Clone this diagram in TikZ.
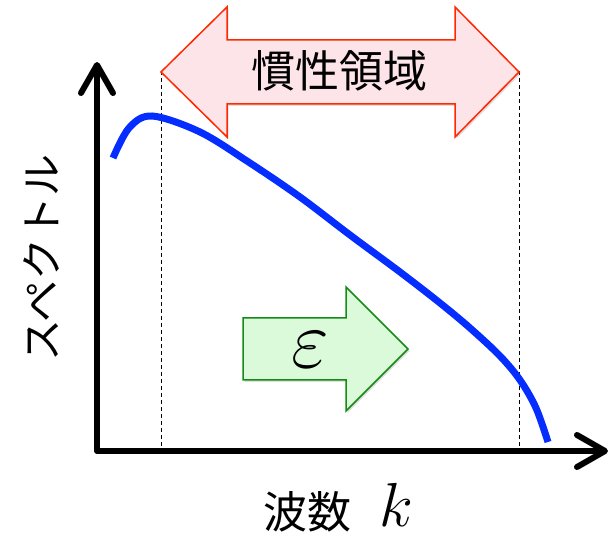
\documentclass[tikz,border=0pt]{standalone}
\usepackage{fontspec}
\usepackage{graphicx}
\newfontfamily\jpfont{Noto Sans CJK JP}
\usetikzlibrary{arrows.meta,shadows}
\definecolor{curveblue}{RGB}{5,45,255}
\definecolor{pinkfill}{RGB}{253,228,233}
\definecolor{redline}{RGB}{255,40,0}
\definecolor{greenfill}{RGB}{218,250,218}
\definecolor{greenline}{RGB}{20,140,20}
\tikzset{
  axisline/.style={line width=6pt, line cap=round, line join=round,
    arrows={Straight Barb[length=28pt,width=32pt,round]-Straight Barb[length=28pt,width=32pt,round]}},
  guide/.style={line width=1pt, dash pattern=on 4pt off 3pt},
  spectrum/.style={line width=7pt, color=curveblue},
  bigarrow/.style={line width=1.5pt, line join=miter,
    drop shadow={shadow xshift=1.5pt, shadow yshift=-2pt, opacity=0.25}},
  jplabel/.style={font=\jpfont\fontsize{42}{42}\selectfont, inner sep=0pt}
}
\begin{document}
\begin{tikzpicture}[x=1pt,y=-1pt]
\useasboundingbox (0,0) rectangle (611,534);
% axes
\coordinate (ytip) at (97,62);
\coordinate (origin) at (97,451);
\coordinate (xtip) at (608,451);
\draw[axisline] (ytip) -- (origin) -- (xtip);
% guide lines
\coordinate (gl) at (161,71);
\coordinate (glb) at (161,451);
\coordinate (gr) at (519,71);
\coordinate (grb) at (519,451);
\draw[guide] (gl) -- (glb);
\draw[guide] (gr) -- (grb);
% inertial range arrow
\filldraw[bigarrow, fill=pinkfill, draw=redline]
  (161,72) -- (227,7) -- (227,40) -- (455,40) -- (455,7) -- (519,72)
  -- (455,137) -- (455,104) -- (227,104) -- (227,137) -- cycle;
\node[jplabel, font=\jpfont\fontsize{44}{44}\selectfont] (inertial) at (339,71) {慣性領域};
% spectrum curve
\draw[spectrum] plot[smooth, tension=0.55] coordinates {
  (113,158) (129,128) (152,116) (200,132) (250,163) (300,197)
  (350,235) (400,272) (440,303) (470,328) (500,356) (520,380) (536,408) (548,442)};
% epsilon arrow
\filldraw[bigarrow, fill=greenfill, draw=greenline]
  (243,318) -- (346,318) -- (346,287) -- (408,349) -- (346,411)
  -- (346,380) -- (243,380) -- cycle;
\node[inner sep=0pt] (eps) at (310,350) {\scalebox{3.3}{\fontsize{24}{24}\selectfont$\varepsilon$}};
% labels
\node[jplabel, rotate=90] (ylabel) at (41,258) {スペクトル};
\node[jplabel, font=\jpfont\fontsize{44}{44}\selectfont] (xlabel) at (307,512) {波数};
\node[inner sep=0pt] (klabel) at (396,505) {\scalebox{2.5}{\fontsize{24}{24}\selectfont$k$}};
\end{tikzpicture}
\end{document}
